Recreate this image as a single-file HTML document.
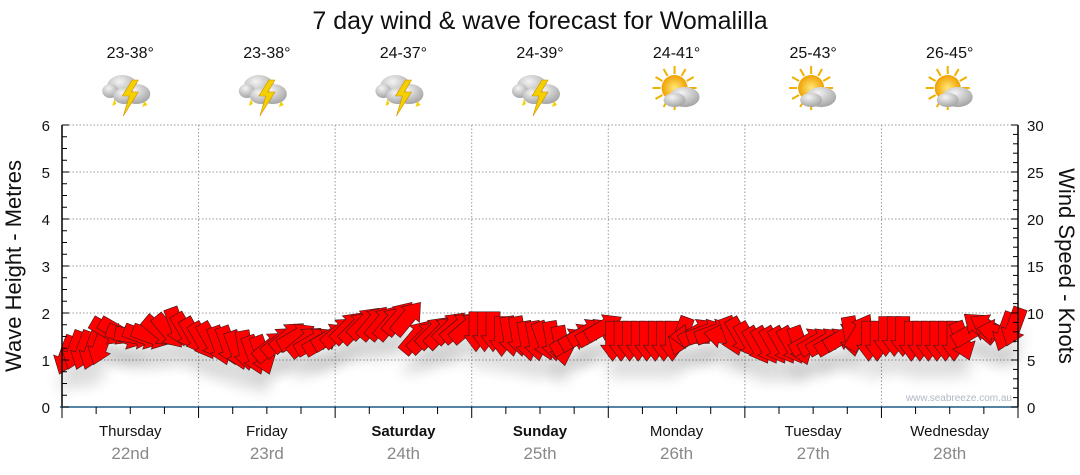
<!DOCTYPE html>
<html><head><meta charset="utf-8"><style>
body{margin:0;background:#fff;}
svg{display:block;font-family:"Liberation Sans","DejaVu Sans",sans-serif;}
</style></head><body>
<svg id="c" width="1080" height="475" viewBox="0 0 1080 475">
<defs>
<filter id="sh" x="-50%" y="-50%" width="200%" height="250%"><feGaussianBlur stdDeviation="7"/></filter>
<radialGradient id="cloudG" cx="0.4" cy="0.3" r="0.8"><stop offset="0" stop-color="#f4f4f4"/><stop offset="1" stop-color="#9a9a9a"/></radialGradient>
<radialGradient id="sunG" cx="0.5" cy="0.5" r="0.5"><stop offset="0" stop-color="#ffe97a"/><stop offset="1" stop-color="#f0a000"/></radialGradient>
</defs>
<text x="540" y="29" font-size="25" text-anchor="middle" fill="#111">7 day wind &amp; wave forecast for Womalilla</text>
<g id="grid"></g>
<g id="shadow"></g>
<g id="arrows"></g>
<g id="axes"></g>
<text x="1012" y="401" font-size="10" text-anchor="end" fill="#b0b8c4">www.seabreeze.com.au</text>
<text transform="translate(21,266) rotate(-90)" font-size="22" text-anchor="middle" fill="#111">Wave Height - Metres</text>
<text transform="translate(1059,266) rotate(90)" font-size="22" text-anchor="middle" fill="#111">Wind Speed - Knots</text>
</svg>
<script>
const days=["Thursday","Friday","Saturday","Sunday","Monday","Tuesday","Wednesday"];
const dates=["22nd","23rd","24th","25th","26th","27th","28th"];
const boldDays=[false,false,true,true,false,false,false];
const temps=["23-38°","23-38°","24-37°","24-39°","24-41°","25-43°","26-45°"];
const icons=["storm","storm","storm","storm","sun","sun","sun"];
const waveTicks=[0,1,2,3,4,5,6];
const windTicks=[0,5,10,15,20,25,30];
const windSpeed=[
5.5,6,6,6,6.5,8,8,7.5,7.5,7.5,7.5,8,8,8.5,8,7.5,
7,7,6.5,6.5,6,6,5.5,5.5,6.5,7,7.5,7.5,7,7,7,7.5,
8,8.5,8.5,9,9,9,9,9.5,9.5,7.5,7.5,8,8,8.5,8.5,8.5,
8,8,8,7.5,7.5,7.5,7,7,7,7,6.5,7,7.5,8,8,8.5,
7,7,7,7,7,7,7,7,7.5,7.5,8,8,8,7.5,7.5,7.5,
7,6.5,6.5,6.5,6.5,6.5,6.5,7,7,7,7,7.5,7.5,8,7,7,
7.5,7.5,7.5,7,7,7,7,7,7,7,8,8.5,8.5,8,8,8.5];
const windDir=[
200,200,200,200,200,120,120,110,100,110,110,130,140,160,150,150,
150,150,160,160,160,170,160,160,50,50,50,60,50,60,60,60,
50,45,45,45,40,40,40,40,40,40,45,45,45,45,50,50,
180,180,180,180,170,170,170,170,160,170,170,60,60,60,60,60,
180,180,180,180,180,180,180,180,200,270,60,70,70,280,160,150,
150,150,150,150,150,150,160,60,60,60,60,60,170,30,180,180,
180,180,180,180,180,180,180,180,180,160,60,310,300,280,200,200];

const NS="http://www.w3.org/2000/svg";
const X0=62,X1=1018,Y0=407,Y1=125;
const dayW=(X1-X0)/days.length;
const perDay=windSpeed.length/days.length;
const yWave=v=>Y0-(v/6)*(Y0-Y1);
const yWind=v=>Y0-(v/30)*(Y0-Y1);
const xIdx=i=>X0+(i+0.5)*dayW/perDay;
function mk(tag,attrs,parent,text){const e=document.createElementNS(NS,tag);for(const k in attrs)e.setAttribute(k,attrs[k]);if(text!==undefined)e.textContent=text;parent.appendChild(e);return e;}
const svg=document.getElementById('c');
const grid=document.getElementById('grid'),axes=document.getElementById('axes'),arrows=document.getElementById('arrows'),shadow=document.getElementById('shadow');

waveTicks.forEach((t,i)=>{ if(t===0)return;
 const l=mk('line',{x1:X0,x2:X1,y1:yWave(t),y2:yWave(t),stroke:'#999','stroke-dasharray':'1.5,2','stroke-width':1},grid);
 
 
});
for(let d=1;d<days.length;d++){
 const x=X0+d*dayW;
 const l=mk('line',{x1:x,x2:x,y1:Y1,y2:Y0,stroke:'#999','stroke-dasharray':'1.5,2','stroke-width':1},grid);
 
 
}
mk('line',{x1:X0,x2:X0,y1:Y1,y2:Y0,stroke:'#000','stroke-width':1.5},axes);
mk('line',{x1:X1,x2:X1,y1:Y1,y2:Y0,stroke:'#000','stroke-width':1.5},axes);
mk('line',{x1:X0-2,x2:X1,y1:Y0,y2:Y0,stroke:'#1d5a86','stroke-width':1.5},axes);
for(let v=0;v<=6;v+=0.25){const y=yWave(v);mk('line',{x1:X0,x2:X0+(v%1===0?7:5),y1:y,y2:y,stroke:'#000'},axes);}
for(let v=0;v<=30;v+=1){const y=yWind(v);mk('line',{x1:X1,x2:X1-(v%5===0?7:5),y1:y,y2:y,stroke:'#000'},axes);}
waveTicks.forEach(t=>{const e=mk('text',{x:50,y:yWave(t)+6,'font-size':15,'text-anchor':'end',fill:'#111'},axes,String(t));
 
 });
windTicks.forEach(t=>{const e=mk('text',{x:1027,y:yWind(t)+6,'font-size':15,'text-anchor':'start',fill:'#111'},axes,String(t));
 
 });
for(let q=0;q<=days.length*4;q++){const x=X0+q*dayW/4;mk('line',{x1:x,x2:x,y1:Y0,y2:Y0+(q%4===0?11:7),stroke:'#000'},axes);}

days.forEach((d,i)=>{
 const cx=X0+(i+0.5)*dayW;
 const a=mk('text',{x:cx,y:436,'font-size':15,'text-anchor':'middle',fill:'#111','font-weight':boldDays[i]?'bold':'normal'},svg,d);
 
 
 const b=mk('text',{x:cx,y:459,'font-size':17,'text-anchor':'middle',fill:'#888'},svg,dates[i]);
 
 
 const t=mk('text',{x:cx,y:58,'font-size':16,'text-anchor':'middle',fill:'#111'},svg,temps[i]);
 
 
 const g=mk('g',{transform:`translate(${cx},92)`},svg);
 
 
 if(icons[i]==='storm'){
  mk('ellipse',{cx:-8,cy:-6,rx:15,ry:11,fill:'url(#cloudG)'},g);
  mk('ellipse',{cx:-20,cy:-1,rx:8,ry:7,fill:'url(#cloudG)'},g);
  mk('ellipse',{cx:6,cy:2,rx:14,ry:10,fill:'url(#cloudG)'},g);
  mk('ellipse',{cx:-6,cy:4,rx:11,ry:8,fill:'url(#cloudG)'},g);
  mk('polygon',{points:'2,-12 -8,4 -1,4 -7,24 8,0 1,0 8,-12',fill:'#f5d000',stroke:'#d09000','stroke-width':0.6},g);
  mk('polygon',{points:'-16,7 -18,14 -14,12',fill:'#f5d000'},g);
  mk('polygon',{points:'14,9 12,15 17,13',fill:'#f5d000'},g);
 }else{
  for(let k=0;k<12;k++){const an=k*30*Math.PI/180;mk('line',{x1:-2+Math.cos(an)*14,y1:-4+Math.sin(an)*14,x2:-2+Math.cos(an)*22,y2:-4+Math.sin(an)*22,stroke:'#f0b000','stroke-width':2},g);}
  mk('circle',{cx:-2,cy:-4,r:13,fill:'url(#sunG)'},g);
  mk('ellipse',{cx:8,cy:5,rx:15,ry:10,fill:'url(#cloudG)'},g);
  mk('ellipse',{cx:-2,cy:8,rx:11,ry:7,fill:'url(#cloudG)'},g);
 }
});

const arrowPts='-7,-20 7,-20 7,4 12,4 0,20 -12,4 -7,4';
windSpeed.forEach((s,i)=>{
 const x=xIdx(i),y=yWind(s);
 const sh=mk('polygon',{points:arrowPts,transform:`translate(${x},${y+22}) rotate(${windDir[i]+180})`,fill:'#000',opacity:0.07,filter:'url(#sh)'},shadow);
 
 
 const a=mk('polygon',{points:arrowPts,transform:`translate(${x},${y}) rotate(${windDir[i]+180})`,fill:'#ff0000',stroke:'#3a1a1a','stroke-width':0.6},arrows);
 
 
});
</script>
</body></html>
